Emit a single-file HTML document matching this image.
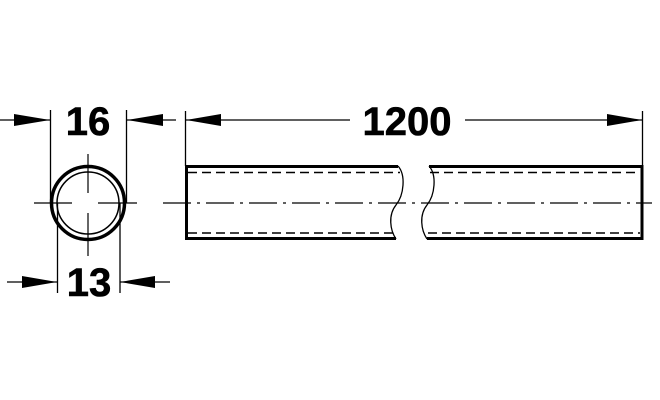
<!DOCTYPE html>
<html><head><style>body{margin:0;background:#fff}svg{display:block}</style></head><body>
<svg width="660" height="400" viewBox="0 0 660 400" xmlns="http://www.w3.org/2000/svg">
<g stroke="#000" fill="none">
<circle cx="88" cy="203" r="36.5" stroke-width="3.5"/>
<circle cx="88" cy="203" r="31" stroke-width="1.5"/>
<line x1="34" y1="203" x2="72" y2="203" stroke-width="1.2"/>
<line x1="98" y1="203" x2="137" y2="203" stroke-width="1.2"/>
<line x1="88" y1="154" x2="88" y2="193" stroke-width="1.2"/>
<line x1="88" y1="213" x2="88" y2="256" stroke-width="1.2"/>
<line x1="50.5" y1="110" x2="50.5" y2="203" stroke-width="1.3"/>
<line x1="126.5" y1="110" x2="126.5" y2="203" stroke-width="1.3"/>
<line x1="0" y1="120" x2="50" y2="120" stroke-width="1.3"/>
<line x1="127" y1="120" x2="176" y2="120" stroke-width="1.3"/>
<line x1="57.5" y1="203" x2="57.5" y2="293" stroke-width="1.3"/>
<line x1="120" y1="203" x2="120" y2="293" stroke-width="1.3"/>
<line x1="7" y1="282" x2="57" y2="282" stroke-width="1.3"/>
<line x1="120" y1="282" x2="170" y2="282" stroke-width="1.3"/>
<path d="M398,166.5 H186.5 V238.5 H396" stroke-width="3"/>
<path d="M429,166.5 H642 V238.5 H427" stroke-width="3"/>
<path d="M398,166 C406,175 404,195 396,205 C388,215 390,230 396,239" stroke-width="1.3"/>
<path d="M429,166 C437,175 435,195 427,205 C419,215 421,230 427,239" stroke-width="1.3"/>
<line x1="188" y1="172.5" x2="400" y2="172.5" stroke-width="1.6" stroke-dasharray="9,5"/>
<line x1="188" y1="233" x2="398" y2="233" stroke-width="1.6" stroke-dasharray="9,5"/>
<line x1="430" y1="172.5" x2="640" y2="172.5" stroke-width="1.6" stroke-dasharray="9,5"/>
<line x1="428" y1="233" x2="640" y2="233" stroke-width="1.6" stroke-dasharray="9,5"/>
<line x1="163" y1="203" x2="652" y2="203" stroke-width="1.3" stroke-dasharray="28,6,3,6"/>
<line x1="185.5" y1="111" x2="185.5" y2="166" stroke-width="1.3"/>
<line x1="642.5" y1="111" x2="642.5" y2="205" stroke-width="1.3"/>
<line x1="186" y1="120" x2="350" y2="120" stroke-width="1.3"/>
<line x1="465" y1="120" x2="642" y2="120" stroke-width="1.3"/>
</g>
<g fill="#000">
<polygon points="50,120 14,114 14,126"/>
<polygon points="127,120 163,114 163,126"/>
<polygon points="57,282 22,276 22,288"/>
<polygon points="120,282 155,276 155,288"/>
<polygon points="186,120 221,114 221,126"/>
<polygon points="642,120 607,114 607,126"/>
</g>
<g font-family="Liberation Sans, sans-serif" font-weight="bold" font-size="40" text-anchor="middle" fill="#000" stroke="#000" stroke-width="0.6">
<text x="88" y="135">16</text>
<text x="89" y="296">13</text>
<text x="407" y="135">1200</text>
</g>
</svg>
</body></html>
